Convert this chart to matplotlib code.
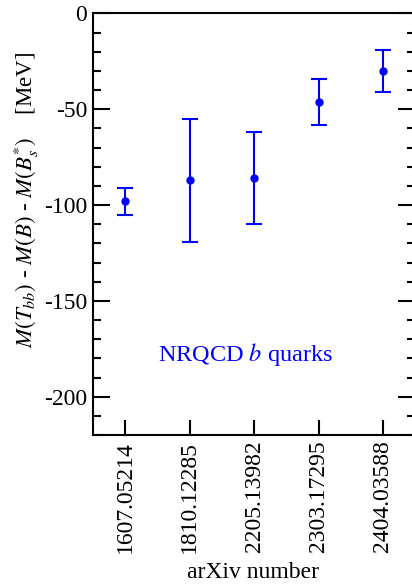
import numpy as np
import matplotlib.pyplot as plt
from matplotlib.ticker import MultipleLocator

plt.rcParams['font.family'] = 'Liberation Serif'
plt.rcParams['mathtext.fontset'] = 'stix'
plt.rcParams['axes.unicode_minus'] = False

papers = ["1607.05214", "1810.12285", "2205.13982", "2303.17295", "2404.03588"]
binding = [-98, -87, -86, -46, -30]
err = [7, 32, 24, 12, 11]

fig = plt.figure(figsize=(4.12, 5.84), dpi=100)
ax = fig.add_axes([0.2265, 0.255, 0.781, 0.722])

x = np.arange(len(papers))
ax.errorbar(x, binding, yerr=err, fmt='o', color='blue', ms=5,
            elinewidth=1.5, capsize=5.5, capthick=1.5)

ax.set_xlim(-0.5, 4.5)
ax.set_ylim(-220, 0)
ax.set_xticks(x)
ax.set_xticklabels(papers, rotation=90, fontsize=17)
ax.yaxis.set_major_locator(MultipleLocator(50))
ax.yaxis.set_minor_locator(MultipleLocator(10))
ax.tick_params(axis='y', which='major', direction='in', length=12, width=1.5,
               right=True, labelsize=17, pad=4.5)
ax.tick_params(axis='y', which='minor', direction='in', length=6, width=1.5,
               right=True)
ax.tick_params(axis='x', direction='in', length=11, width=1.5, pad=4)
for s in ax.spines.values():
    s.set_linewidth(1.5)

ax.text(1.87, -178, r"NRQCD $b$ quarks", color='blue', fontsize=17.5,
        ha='center', va='center')
# axis titles placed by hand so they sit below the long rotated tick labels
fig.text(0.615, 0.019, "arXiv number", fontsize=17, ha='center', va='center')
fig.text(0.063, 0.657, r"$M(T_{bb})$ - $M(B)$ - $M(B_s^{*})$    [MeV]",
         rotation=90, fontsize=16.5, ha='center', va='center')

fig.savefig("out.png", dpi=100)
